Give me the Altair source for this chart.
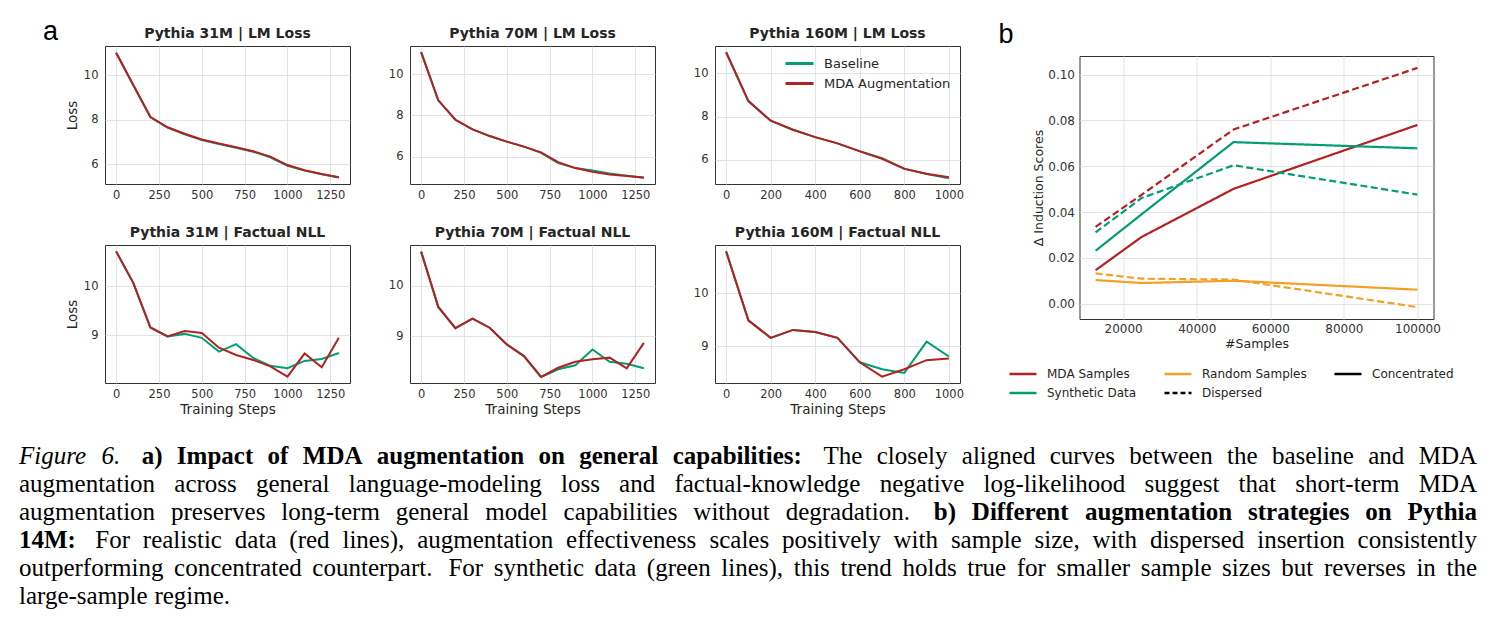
import altair as alt
import pandas as pd

# ---------------- data: panel a ----------------
STEPS_1300 = list(range(0, 1301, 100))
STEPS_1000 = list(range(0, 1001, 100))
SERIES = ["Baseline", "MDA Augmentation"]
X_TICKS_1300 = [0, 250, 500, 750, 1000, 1250]
X_TICKS_1000 = [0, 200, 400, 600, 800, 1000]
Y_TICKS_LM = [6, 8, 10]
Y_TICKS_FACT = [9, 10]

LM31_BASE = [11.02, 9.57, 8.13, 7.65, 7.35, 7.10, 6.92, 6.75, 6.57, 6.32, 5.94, 5.72, 5.56, 5.41]
LM31_MDA = [11.02, 9.57, 8.13, 7.67, 7.38, 7.12, 6.94, 6.77, 6.59, 6.35, 5.97, 5.74, 5.57, 5.42]
LM70_BASE = [11.06, 8.73, 7.79, 7.32, 7.00, 6.73, 6.49, 6.19, 5.69, 5.45, 5.33, 5.19, 5.08, 4.98]
LM70_MDA = [11.06, 8.73, 7.79, 7.32, 7.00, 6.73, 6.49, 6.21, 5.74, 5.45, 5.27, 5.14, 5.07, 5.00]
LM160_BASE = [10.98, 8.72, 7.81, 7.39, 7.05, 6.76, 6.40, 6.07, 5.59, 5.34, 5.14]
LM160_MDA = [10.98, 8.72, 7.81, 7.39, 7.05, 6.76, 6.39, 6.05, 5.58, 5.35, 5.19]

F31_BASE = [10.71, 10.07, 9.16, 8.98, 9.03, 8.95, 8.67, 8.82, 8.54, 8.38, 8.33, 8.48, 8.52, 8.64]
F31_MDA = [10.71, 10.07, 9.16, 8.98, 9.09, 9.05, 8.75, 8.60, 8.50, 8.37, 8.16, 8.63, 8.35, 8.95]
F70_BASE = [10.67, 9.58, 9.16, 9.35, 9.17, 8.84, 8.61, 8.20, 8.35, 8.43, 8.74, 8.50, 8.46, 8.37]
F70_MDA = [10.67, 9.58, 9.16, 9.35, 9.17, 8.84, 8.61, 8.20, 8.38, 8.50, 8.55, 8.58, 8.37, 8.87]
F160_BASE = [10.79, 9.49, 9.16, 9.31, 9.27, 9.16, 8.70, 8.57, 8.50, 9.09, 8.81]
F160_MDA = [10.79, 9.49, 9.16, 9.31, 9.27, 9.16, 8.70, 8.43, 8.57, 8.74, 8.77]

# ---------------- data: panel b ----------------
N_SAMPLES = [12500, 25000, 50000, 100000]
MDA_CONC = [0.0146, 0.0291, 0.0501, 0.0780]
MDA_DISP = [0.0335, 0.0475, 0.0760, 0.1029]
SYN_CONC = [0.0231, 0.0390, 0.0705, 0.0678]
SYN_DISP = [0.0311, 0.0461, 0.0604, 0.0476]
RND_CONC = [0.0103, 0.0090, 0.0100, 0.0061]
RND_DISP = [0.0132, 0.0109, 0.0105, -0.0015]
TYPES = ["MDA Samples", "Synthetic Data", "Random Samples"]
MODES = ["Concentrated", "Dispersed"]
B_X_TICKS = [20000, 40000, 60000, 80000, 100000]
B_Y_TICKS = [0.0, 0.02, 0.04, 0.06, 0.08, 0.10]
# legend entries, filled column by column (2 rows)
LEG_ENTRIES = ["MDA Samples", "Synthetic Data", "Random Samples", "Dispersed", "Concentrated"]

# ---------------- caption ----------------
CAPTION_LINES = [
    [("Figure 6.", "italic"), ("a) Impact of MDA augmentation on general capabilities:", "bold"),
     ("The closely aligned curves between the baseline and MDA", "normal")],
    [("augmentation across general language-modeling loss and factual-knowledge negative log-likelihood suggest that short-term MDA", "normal")],
    [("augmentation preserves long-term general model capabilities without degradation.", "normal"),
     ("b) Different augmentation strategies on Pythia", "bold")],
    [("14M:", "bold"),
     ("For realistic data (red lines), augmentation effectiveness scales positively with sample size, with dispersed insertion consistently", "normal")],
    [("outperforming concentrated counterpart. For synthetic data (green lines), this trend holds true for smaller sample sizes but reverses in the", "normal")],
    [("large-sample regime.", "normal")],
]
JUSTIFIED = [True, True, True, True, True, False]

# ---------------- style ----------------
GREEN = "#009e73"
RED = "#b22222"
ORANGE = "#f4a024"
BLACK = "#000000"
TEXT = "#262626"

W_NORMAL = {' ': 250, 'a': 444, 'b': 500, 'c': 444, 'd': 500, 'e': 444, 'f': 333, 'g': 500, 'h': 500,
            'i': 278, 'j': 278, 'k': 500, 'l': 278, 'm': 778, 'n': 500, 'o': 500, 'p': 500, 'q': 500,
            'r': 333, 's': 389, 't': 278, 'u': 500, 'v': 500, 'w': 722, 'x': 500, 'y': 500, 'z': 444,
            'A': 722, 'D': 722, 'F': 556, 'M': 889, 'T': 611, '(': 333, ')': 333, ',': 250, '.': 250,
            ':': 278, '-': 333}
W_BOLD = {' ': 250, 'a': 500, 'b': 556, 'c': 444, 'd': 556, 'e': 444, 'f': 333, 'g': 500, 'h': 556,
          'i': 278, 'l': 278, 'm': 833, 'n': 556, 'o': 500, 'p': 556, 'r': 444, 's': 389, 't': 333,
          'u': 556, 'y': 500, 'D': 722, 'I': 389, 'M': 944, 'A': 722, 'P': 611, ')': 333, ':': 333,
          '1': 500, '4': 500}
W_ITALIC = {' ': 250, 'F': 611, 'i': 278, 'g': 500, 'u': 500, 'r': 389, 'e': 444, '6': 500, '.': 250}
METRICS = {"normal": W_NORMAL, "bold": W_BOLD, "italic": W_ITALIC}
CAP_FS = 25
CAP_LEFT, CAP_RIGHT = 18, 1476
CAP_TOP_BASELINE, CAP_LEADING = 462, 28
PLOT_LEFT = 104
CAP_Y0, CAP_H = 425, 190

# layout (pixels)
PW, PH = 245, 138
BW, BH = 354, 263
H_GAP = 33.5
V_GAP = 9
B_DROP = 7


def word_width(word, style):
    m = METRICS[style]
    return sum(m.get(c, 500) for c in word) / 1000.0 * CAP_FS


rows = []
for i, line in enumerate(CAPTION_LINES):
    words = [(w, st) for seg, st in line for w in seg.split()]
    widths = [word_width(w, st) for w, st in words]
    weights = [1.5 if w.endswith((".", ":")) else 1.0 for w, _ in words[:-1]]
    if JUSTIFIED[i]:
        unit = (CAP_RIGHT - CAP_LEFT - sum(widths)) / sum(weights)
    else:
        unit = 0.25 * CAP_FS
        weights = [1.0] * len(weights)
    x = CAP_LEFT
    for k, (w, st) in enumerate(words):
        rows.append({"word": w, "style": st, "px": x, "py": CAP_TOP_BASELINE + i * CAP_LEADING})
        if k < len(weights):
            x += widths[k] + unit * weights[k]
cap_df = pd.DataFrame(rows)


def text_layer(txt, x, y, **kw):
    return alt.Chart(pd.DataFrame({"t": [txt]})).mark_text(**kw).encode(
        x=alt.value(x), y=alt.value(y), text="t:N")


def loss_panel(steps, base, mda, title, xdom, ydom, xticks, yticks, ytitle=None, xtitle=None,
               legend=None, label=False):
    n = len(steps)
    df = pd.DataFrame({"step": steps * 2, "loss": base + mda,
                       "series": [SERIES[0]] * n + [SERIES[1]] * n})
    color = alt.Color("series:N", scale=alt.Scale(domain=SERIES, range=[GREEN, RED]),
                      legend=legend)
    lines = alt.Chart(df).mark_line(strokeWidth=2).encode(
        x=alt.X("step:Q", scale=alt.Scale(domain=xdom, nice=False, zero=False),
                axis=alt.Axis(values=xticks, format="d", title=xtitle, labelPadding=5,
                              titlePadding=3)),
        y=alt.Y("loss:Q", scale=alt.Scale(domain=ydom, nice=False, zero=False),
                axis=alt.Axis(values=yticks, format="d", title=ytitle, labelPadding=7,
                              titlePadding=4)),
        color=color,
    )
    layers = [lines, text_layer(title, PW / 2, -8, font="DejaVu Sans", fontSize=14,
                                fontWeight="bold", color=TEXT, align="center",
                                baseline="alphabetic")]
    if label:
        layers.append(text_layer("a", -62, -6, font="Liberation Sans", fontSize=27, align="left",
                                 baseline="alphabetic", color="black"))
    return alt.layer(*layers).properties(width=PW, height=PH)


XD13 = [-65, 1365]
XD10 = [-50, 1050]
lm31 = loss_panel(STEPS_1300, LM31_BASE, LM31_MDA, "Pythia 31M | LM Loss", XD13, [5.12, 11.32],
                  X_TICKS_1300, Y_TICKS_LM, ytitle="Loss", label=True)
lm70 = loss_panel(STEPS_1300, LM70_BASE, LM70_MDA, "Pythia 70M | LM Loss", XD13, [4.68, 11.36],
                  X_TICKS_1300, Y_TICKS_LM)
lm160 = loss_panel(STEPS_1000, LM160_BASE, LM160_MDA, "Pythia 160M | LM Loss", XD10, [4.88, 11.27],
                   X_TICKS_1000, Y_TICKS_LM,
                   legend=alt.Legend(orient="none", legendX=69, legendY=11, title=None,
                                     symbolType="stroke", symbolSize=784, symbolStrokeWidth=3,
                                     labelFont="DejaVu Sans", labelFontSize=13, labelColor=TEXT,
                                     labelOffset=9, clipHeight=13, rowPadding=6, padding=0,
                                     labelLimit=300))
f31 = loss_panel(STEPS_1300, F31_BASE, F31_MDA, "Pythia 31M | Factual NLL", XD13, [8.03, 10.84],
                 X_TICKS_1300, Y_TICKS_FACT, ytitle="Loss", xtitle="Training Steps")
f70 = loss_panel(STEPS_1300, F70_BASE, F70_MDA, "Pythia 70M | Factual NLL", XD13, [8.08, 10.80],
                 X_TICKS_1300, Y_TICKS_FACT, xtitle="Training Steps")
f160 = loss_panel(STEPS_1000, F160_BASE, F160_MDA, "Pythia 160M | Factual NLL", XD10, [8.31, 10.91],
                  X_TICKS_1000, Y_TICKS_FACT, xtitle="Training Steps")

IND = dict(color="independent", strokeDash="independent")
group_a = alt.concat(lm31, lm70, lm160, f31, f70, f160, columns=3,
                     spacing={"row": 61, "column": 60}, bounds="flush").resolve_scale(**IND)

# ---------------- panel b ----------------
b_rows = []
for t, m, vals in [(TYPES[0], MODES[0], MDA_CONC), (TYPES[0], MODES[1], MDA_DISP),
                   (TYPES[1], MODES[0], SYN_CONC), (TYPES[1], MODES[1], SYN_DISP),
                   (TYPES[2], MODES[0], RND_CONC), (TYPES[2], MODES[1], RND_DISP)]:
    for nn, v in zip(N_SAMPLES, vals):
        b_rows.append({"N": nn, "score": v, "type": t, "mode": m})
b_df = pd.DataFrame(b_rows)

b_lines = alt.Chart(b_df).mark_line(strokeWidth=2.2).encode(
    x=alt.X("N:Q", scale=alt.Scale(domain=[8125, 104375], nice=False, zero=False),
            axis=alt.Axis(values=B_X_TICKS, format="d", title="#Samples", labelFontSize=12,
                          titleFontSize=12.5, labelPadding=4, titlePadding=3)),
    y=alt.Y("score:Q", scale=alt.Scale(domain=[-0.0067, 0.1081], nice=False, zero=False),
            axis=alt.Axis(values=B_Y_TICKS, format=".2f", title="Δ Induction Scores",
                          labelFontSize=12, titleFontSize=12.5, labelPadding=5, titlePadding=2)),
    color=alt.Color("type:N", scale=alt.Scale(domain=TYPES, range=[RED, GREEN, ORANGE]), legend=None),
    strokeDash=alt.StrokeDash("mode:N", scale=alt.Scale(domain=MODES, range=[[1, 0], [7, 3.5]]),
                              legend=None),
)
b_leg = alt.Legend(orient="none", legendX=-71.5, legendY=312, title=None, columns=3,
                   symbolType="stroke", symbolSize=729, symbolStrokeWidth=2.5,
                   labelFont="DejaVu Sans", labelFontSize=12, labelColor=TEXT, labelOffset=9,
                   columnPadding=26, clipHeight=12, rowPadding=7, padding=0, labelLimit=300)
b_legend_layer = alt.Chart(pd.DataFrame({"entry": LEG_ENTRIES})).transform_filter("false").mark_line().encode(
    x=alt.value(0), y=alt.value(0),
    color=alt.Color("entry:N", scale=alt.Scale(domain=LEG_ENTRIES,
                                               range=[RED, GREEN, ORANGE, BLACK, BLACK]), legend=b_leg),
    strokeDash=alt.StrokeDash("entry:N", scale=alt.Scale(domain=LEG_ENTRIES,
                                                         range=[[1, 0], [1, 0], [1, 0], [5, 3], [1, 0]]),
                              legend=b_leg),
)
b_chart = alt.layer(b_lines, b_legend_layer).resolve_scale(**IND).properties(width=BW, height=BH)

# thin strip above panel b carrying the "b" label
b_strip = text_layer("b", -81, -3, font="Liberation Sans", fontSize=27, align="left",
                     baseline="alphabetic", color="black").properties(
    width=BW, height=1, view=alt.ViewBackground(stroke="transparent"))
b_col = alt.vconcat(b_strip, b_chart, spacing=B_DROP - 1).resolve_scale(**IND)

top_row = alt.hconcat(group_a, b_col, spacing=H_GAP).resolve_scale(**IND)

# ---------------- caption chart ----------------
cap_w = CAP_RIGHT - PLOT_LEFT
cap_base = alt.Chart(cap_df).encode(
    x=alt.X("px:Q", scale=alt.Scale(domain=[PLOT_LEFT, CAP_RIGHT], range=[0, cap_w],
                                    nice=False, zero=False), axis=None),
    y=alt.Y("py:Q", scale=alt.Scale(domain=[CAP_Y0, CAP_Y0 + CAP_H], range=[0, CAP_H], nice=False,
                                    zero=False), axis=None),
    text="word:N",
)
cap_normal = cap_base.transform_filter(alt.datum.style == "normal").mark_text(
    font="Liberation Serif", fontSize=CAP_FS, align="left", baseline="alphabetic", color="black")
cap_bold = cap_base.transform_filter(alt.datum.style == "bold").mark_text(
    font="Liberation Serif", fontSize=CAP_FS, fontWeight="bold", align="left", baseline="alphabetic",
    color="black")
cap_italic = cap_base.transform_filter(alt.datum.style == "italic").mark_text(
    font="Liberation Serif", fontSize=CAP_FS, fontStyle="italic", align="left", baseline="alphabetic",
    color="black")
caption = alt.layer(cap_normal, cap_bold, cap_italic).properties(
    width=cap_w, height=CAP_H, view=alt.ViewBackground(stroke="transparent"))

chart = alt.vconcat(top_row, caption, spacing=V_GAP).resolve_scale(**IND).properties(
    padding={"left": 18, "top": 17, "right": 0, "bottom": 0}
).configure(background="white").configure_view(
    stroke="#333333", strokeWidth=1
).configure_axis(
    domain=False, ticks=False, tickSize=0, grid=True, gridColor="#dcdcdc", gridWidth=0.8,
    labelFont="DejaVu Sans", labelFontSize=11.5, labelColor="#333333",
    titleFont="DejaVu Sans", titleFontSize=13.5, titleFontWeight="normal", titleColor=TEXT,
    labelFlush=False, labelOverlap=False
)

chart.save("out.html", embed_options={"renderer": "svg", "actions": False})
